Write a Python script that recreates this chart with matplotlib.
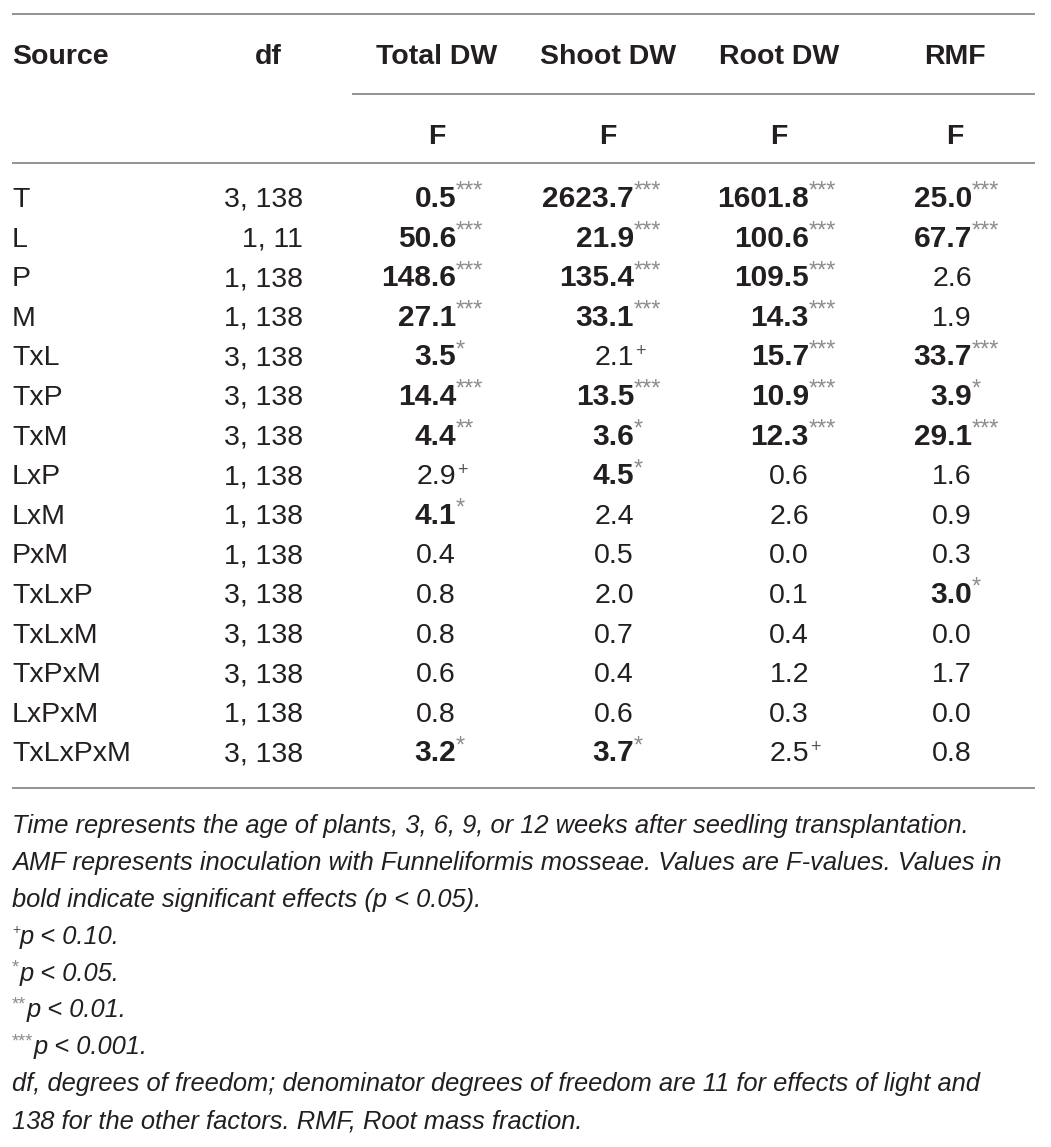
import matplotlib
matplotlib.use("Agg")
import matplotlib.pyplot as plt

plt.rcParams['font.family'] = ['Liberation Sans', 'DejaVu Sans']

# table content
sources = ["T", "L", "P", "M", "TxL", "TxP", "TxM", "LxP", "LxM", "PxM",
           "TxLxP", "TxLxM", "TxPxM", "LxPxM", "TxLxPxM"]
dfs = ["3, 138", "1, 11", "1, 138", "1, 138", "3, 138", "3, 138", "3, 138",
       "1, 138", "1, 138", "1, 138", "3, 138", "3, 138", "3, 138", "1, 138", "3, 138"]
columns = ["Total DW", "Shoot DW", "Root DW", "RMF"]

total_dw = [0.5, 50.6, 148.6, 27.1, 3.5, 14.4, 4.4, 2.9, 4.1, 0.4, 0.8, 0.8, 0.6, 0.8, 3.2]
total_sig = ["***", "***", "***", "***", "*", "***", "**", "+", "*", "", "", "", "", "", "*"]
shoot_dw = [2623.7, 21.9, 135.4, 33.1, 2.1, 13.5, 3.6, 4.5, 2.4, 0.5, 2.0, 0.7, 0.4, 0.6, 3.7]
shoot_sig = ["***", "***", "***", "***", "+", "***", "*", "*", "", "", "", "", "", "", "*"]
root_dw = [1601.8, 100.6, 109.5, 14.3, 15.7, 10.9, 12.3, 0.6, 2.6, 0.0, 0.1, 0.4, 1.2, 0.3, 2.5]
root_sig = ["***", "***", "***", "***", "***", "***", "***", "", "", "", "", "", "", "", "+"]
rmf = [25.0, 67.7, 2.6, 1.9, 33.7, 3.9, 29.1, 1.6, 0.9, 0.3, 3.0, 0.0, 1.7, 0.0, 0.8]
rmf_sig = ["***", "***", "", "", "***", "*", "***", "", "", "", "*", "", "", "", ""]

footnotes = [
    ("", "Time represents the age of plants, 3, 6, 9, or 12 weeks after seedling transplantation."),
    ("", "AMF represents inoculation with Funneliformis mosseae. Values are F-values. Values in"),
    ("", "bold indicate significant effects (p < 0.05)."),
    ("+", "p < 0.10."),
    ("*", "p < 0.05."),
    ("**", "p < 0.01."),
    ("***", "p < 0.001."),
    ("", "df, degrees of freedom; denominator degrees of freedom are 11 for effects of light and"),
    ("", "138 for the other factors. RMF, Root mass fraction."),
]

W, H = 1051, 1147
fig = plt.figure(figsize=(W / 100, H / 100), dpi=100)
ax = fig.add_axes([0, 0, 1, 1])
ax.set_xlim(0, W)
ax.set_ylim(H, 0)
ax.axis("off")

txt = "#231f20"
rule = "#8a8a8a"
star = "#8c8c8c"

# rules
ax.hlines([14, 163, 788], 12, 1035, color=rule, lw=1.3)
ax.hlines(94, 352, 1035, color=rule, lw=1.3)

# header
col_right = [456, 634, 809, 972]
col_center = [437, 608, 779, 955]
hsize = 20.5
ax.text(12, 64, "Source", fontsize=hsize, fontweight="bold", color=txt, va="baseline")
ax.text(268, 64, "df", fontsize=hsize, fontweight="bold", color=txt, va="baseline", ha="center")
for c, name in zip(col_center, columns):
    ax.text(c, 64, name, fontsize=hsize, fontweight="bold", color=txt, va="baseline", ha="center")
    ax.text(c, 144, "F", fontsize=hsize, fontweight="bold", color=txt, va="baseline", ha="center")

# body
row0, step = 207, 39.6
data = [(total_dw, total_sig), (shoot_dw, shoot_sig), (root_dw, root_sig), (rmf, rmf_sig)]
for i, (src, d) in enumerate(zip(sources, dfs)):
    y = row0 + i * step
    ax.text(12, y, src, fontsize=20.5, color=txt, va="baseline")
    ax.text(303, y, d, fontsize=20.5, color=txt, va="baseline", ha="right")
    for xr, (vals, sig) in zip(col_right, data):
        bold = sig[i] in ("*", "**", "***")
        ax.text(xr, y, f"{vals[i]:.1f}", fontsize=21.5 if bold else 20.5, color=txt,
                va="baseline", ha="right", fontweight="bold" if bold else "normal")
        if sig[i] == "+":
            ax.text(xr + 1, y - 9, "+", fontsize=13, color="#555555", va="baseline", ha="left")
        elif sig[i]:
            ax.text(xr, y - 9, sig[i], fontsize=17, color=star, va="baseline", ha="left")

# footnotes
fy0, fstep = 833, 36.9
for j, (sup, line) in enumerate(footnotes):
    y = fy0 + j * fstep
    x = 12
    if sup == "+":
        ax.text(x, y - 10, sup, fontsize=10, color="#555555", va="baseline", ha="left")
        x += 8
    elif sup:
        ax.text(x, y - 8, sup, fontsize=13, color=star, va="baseline", ha="left")
        x += 7 * len(sup) + 1
    ax.text(x, y, line, fontsize=18.4, style="italic", color=txt, va="baseline", ha="left")

fig.savefig("out.png", dpi=100)
